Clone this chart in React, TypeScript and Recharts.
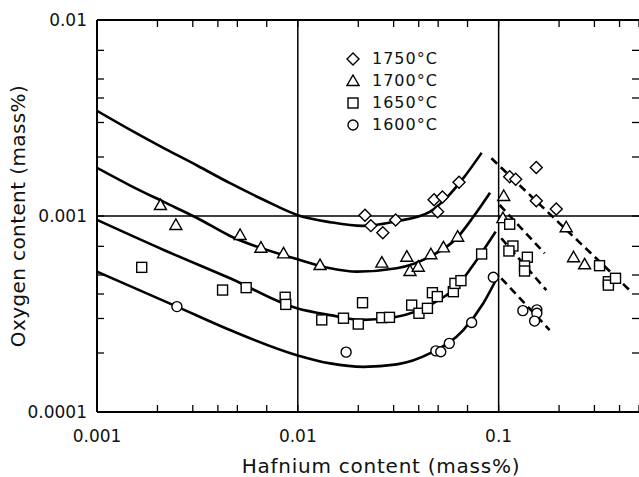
import { ComposedChart, Line, Scatter, XAxis, YAxis, ReferenceLine } from "recharts";

const FONT = '"DejaVu Sans", sans-serif';
const W = 639;
const H = 477;
const PLOT_W = 542;
const PLOT_H = 392;
const X_MARGIN = 18;
const Y_MARGIN = 10;
const TICK_LEN = 7;

// axis ticks (log scales), labelled decades only
const xTicks = [0.001, 0.002, 0.003, 0.004, 0.005, 0.007, 0.01, 0.02, 0.03, 0.04, 0.05, 0.07, 0.1, 0.2, 0.3, 0.4, 0.5];
const yTicks = [0.0001, 0.0002, 0.0003, 0.0004, 0.0005, 0.0007, 0.001, 0.002, 0.003, 0.004, 0.005, 0.007, 0.01];
const xLabelValues = [0.001, 0.01, 0.1];
const xLabelText = ["0.001", "0.01", "0.1"];
const yLabelValues = [0.0001, 0.001, 0.01];
const yLabelText = ["0.0001", "0.001", "0.01"];

// measured points
const pts1750 = [
  { x: 0.0216, y: 0.00101 }, { x: 0.0231, y: 0.000893 }, { x: 0.0265, y: 0.000822 }, { x: 0.0307, y: 0.000954 },
  { x: 0.0477, y: 0.00121 }, { x: 0.0525, y: 0.00125 }, { x: 0.0497, y: 0.00105 }, { x: 0.0635, y: 0.001485 },
  { x: 0.1135, y: 0.001587 }, { x: 0.1216, y: 0.00154 }, { x: 0.154, y: 0.00177 }, { x: 0.154, y: 0.001195 },
  { x: 0.1936, y: 0.001086 },
];
const pts1700 = [
  { x: 0.00207, y: 0.001137 }, { x: 0.00247, y: 0.0009 }, { x: 0.00516, y: 0.0008 }, { x: 0.00655, y: 0.000689 },
  { x: 0.00849, y: 0.000645 }, { x: 0.0129, y: 0.000562 }, { x: 0.0262, y: 0.000578 }, { x: 0.0349, y: 0.00062 },
  { x: 0.0362, y: 0.000524 }, { x: 0.0398, y: 0.000551 }, { x: 0.046, y: 0.000638 }, { x: 0.0531, y: 0.000692 },
  { x: 0.0625, y: 0.000784 }, { x: 0.106, y: 0.001265 }, { x: 0.105, y: 0.000975 }, { x: 0.217, y: 0.000876 },
  { x: 0.236, y: 0.000616 }, { x: 0.268, y: 0.000567 },
];
const pts1650 = [
  { x: 0.00167, y: 0.000547 }, { x: 0.00422, y: 0.000419 }, { x: 0.00553, y: 0.000431 }, { x: 0.00865, y: 0.000385 },
  { x: 0.00871, y: 0.000354 }, { x: 0.01316, y: 0.000295 }, { x: 0.01688, y: 0.000301 }, { x: 0.02, y: 0.000281 },
  { x: 0.021, y: 0.000361 }, { x: 0.0262, y: 0.000303 }, { x: 0.0286, y: 0.000304 }, { x: 0.0369, y: 0.000351 },
  { x: 0.0401, y: 0.000319 }, { x: 0.0442, y: 0.000338 }, { x: 0.0468, y: 0.000406 }, { x: 0.0495, y: 0.000388 },
  { x: 0.0595, y: 0.000411 }, { x: 0.0606, y: 0.000453 }, { x: 0.0649, y: 0.000468 }, { x: 0.0823, y: 0.00064 },
  { x: 0.1135, y: 0.000908 }, { x: 0.1178, y: 0.000703 }, { x: 0.1125, y: 0.000663 }, { x: 0.139, y: 0.000616 },
  { x: 0.1346, y: 0.000556 }, { x: 0.1346, y: 0.000524 }, { x: 0.318, y: 0.000558 }, { x: 0.352, y: 0.000462 },
  { x: 0.352, y: 0.000444 }, { x: 0.382, y: 0.000481 },
];
const pts1600 = [
  { x: 0.0025, y: 0.000345 }, { x: 0.0174, y: 0.000202 }, { x: 0.0487, y: 0.000205 }, { x: 0.0515, y: 0.000203 },
  { x: 0.0568, y: 0.000224 }, { x: 0.0734, y: 0.000286 }, { x: 0.0941, y: 0.000487 }, { x: 0.132, y: 0.000329 },
  { x: 0.155, y: 0.000332 }, { x: 0.155, y: 0.000319 }, { x: 0.151, y: 0.000291 },
];

// fitted curves (solid)
const fit1750 = [
  { x: 0.001, y: 0.00344 }, { x: 0.001465, y: 0.00275 }, { x: 0.00215, y: 0.00222 }, { x: 0.00315, y: 0.00181 },
  { x: 0.0046, y: 0.00147 }, { x: 0.00675, y: 0.00121 }, { x: 0.01, y: 0.00101 }, { x: 0.0145, y: 0.00093 },
  { x: 0.021, y: 0.00089 }, { x: 0.031, y: 0.00094 }, { x: 0.0454, y: 0.00105 }, { x: 0.0551, y: 0.00124 },
  { x: 0.0667, y: 0.00156 }, { x: 0.0823, y: 0.0021 },
];
const fit1700 = [
  { x: 0.001, y: 0.00176 }, { x: 0.001465, y: 0.00143 }, { x: 0.00215, y: 0.00118 }, { x: 0.00315, y: 0.000977 },
  { x: 0.0046, y: 0.000791 }, { x: 0.0099, y: 0.000603 }, { x: 0.0145, y: 0.000541 }, { x: 0.0197, y: 0.00052 },
  { x: 0.0311, y: 0.000541 }, { x: 0.0454, y: 0.00062 }, { x: 0.0618, y: 0.00077 }, { x: 0.0748, y: 0.00099 },
  { x: 0.0906, y: 0.001315 },
];
const fit1650 = [
  { x: 0.001, y: 0.000955 }, { x: 0.00215, y: 0.000671 }, { x: 0.0046, y: 0.000481 }, { x: 0.0099, y: 0.000338 },
  { x: 0.0145, y: 0.000312 }, { x: 0.0212, y: 0.000295 }, { x: 0.0311, y: 0.000306 }, { x: 0.0454, y: 0.000351 },
  { x: 0.0618, y: 0.000436 }, { x: 0.0778, y: 0.000597 }, { x: 0.0966, y: 0.000832 },
];
const fit1600 = [
  { x: 0.001, y: 0.00052 }, { x: 0.0025, y: 0.000345 }, { x: 0.00459, y: 0.000262 }, { x: 0.0099, y: 0.000195 },
  { x: 0.0145, y: 0.000177 }, { x: 0.0212, y: 0.00017 }, { x: 0.0311, y: 0.000175 }, { x: 0.0454, y: 0.000199 },
  { x: 0.0667, y: 0.000262 }, { x: 0.0839, y: 0.000359 }, { x: 0.0998, y: 0.0005 },
];

// dashed lines above 0.1 mass% Hf
const dash1750 = [{ x: 0.092, y: 0.00197 }, { x: 0.457, y: 0.000411 }];
const dash1700 = [{ x: 0.1012, y: 0.001138 }, { x: 0.1694, y: 0.000645 }];
const dash1650 = [{ x: 0.1031, y: 0.00077 }, { x: 0.1727, y: 0.000419 }];
const dash1600 = [{ x: 0.1031, y: 0.000481 }, { x: 0.1794, y: 0.000262 }];

const legendItems = [
  { label: "1750°C", kind: "diamond" },
  { label: "1700°C", kind: "triangle" },
  { label: "1650°C", kind: "square" },
  { label: "1600°C", kind: "circle" },
];

function Marker({ kind, cx, cy }: { kind: string; cx: number; cy: number }) {
  const common = { fill: "#fff", stroke: "#000", strokeWidth: 1.4 };
  if (kind === "diamond")
    return <path d={`M${cx},${cy - 6}L${cx + 6},${cy}L${cx},${cy + 6}L${cx - 6},${cy}Z`} {...common} />;
  if (kind === "triangle")
    return <path d={`M${cx},${cy - 6}L${cx + 6},${cy + 4.5}L${cx - 6},${cy + 4.5}Z`} {...common} />;
  if (kind === "square") return <rect x={cx - 5} y={cy - 5} width={10} height={10} {...common} />;
  return <circle cx={cx} cy={cy} r={5} {...common} />;
}

// stable shape renderers (module level, so props do not change between renders)
const diamondShape = (p: any) => <Marker kind="diamond" cx={p.cx} cy={p.cy} />;
const triangleShape = (p: any) => <Marker kind="triangle" cx={p.cx} cy={p.cy} />;
const squareShape = (p: any) => <Marker kind="square" cx={p.cx} cy={p.cy} />;
const circleShape = (p: any) => <Marker kind="circle" cx={p.cx} cy={p.cy} />;

const fmt = (values: number[], text: string[]) => (v: number) => {
  const i = values.findIndex((d) => Math.abs(d - v) / d < 1e-6);
  return i >= 0 ? text[i] : "";
};
const xFmt = fmt(xLabelValues, xLabelText);
const yFmt = fmt(yLabelValues, yLabelText);

const textStyle = { fontFamily: FONT, fontSize: 17, fill: "#111" };

// inward ticks on bottom and top, decade label below
const XTick = (props: any) => {
  const { x, y, payload } = props;
  const base = y - X_MARGIN;
  const top = base - PLOT_H;
  const label = xFmt(payload.value);
  return (
    <g>
      <line x1={x} x2={x} y1={base} y2={base - TICK_LEN} stroke="#000" strokeWidth={1.3} />
      <line x1={x} x2={x} y1={top} y2={top + TICK_LEN} stroke="#000" strokeWidth={1.3} />
      {label ? (
        <text x={x} y={y} dy="0.71em" textAnchor="middle" style={textStyle}>
          {label}
        </text>
      ) : null}
    </g>
  );
};

// inward ticks on left and right, decade label to the left
const YTick = (props: any) => {
  const { x, y, payload } = props;
  const base = x + Y_MARGIN;
  const right = base + PLOT_W;
  const label = yFmt(payload.value);
  return (
    <g>
      <line x1={base} x2={base + TICK_LEN} y1={y} y2={y} stroke="#000" strokeWidth={1.3} />
      <line x1={right} x2={right - TICK_LEN} y1={y} y2={y} stroke="#000" strokeWidth={1.3} />
      {label ? (
        <text x={x} y={y} dy="0.355em" textAnchor="end" style={textStyle}>
          {label}
        </text>
      ) : null}
    </g>
  );
};

const xTickEl = <XTick />;
const yTickEl = <YTick />;
const chartMargin = { top: 20, right: 0, bottom: 0, left: 0 };
const thick = { stroke: "#000", strokeWidth: 2 };
const xDomain = [0.001, 0.5];
const yDomain = [0.0001, 0.01];
const xTitle = { value: "Hafnium content (mass%)", position: "center" as const, dx: 13, dy: 21, style: { fontFamily: FONT, fontSize: 20, fill: "#111", letterSpacing: 0.75 } };
const yTitle = { value: "Oxygen content (mass%)", angle: -90, position: "center" as const, dx: -31, style: { fontFamily: FONT, fontSize: 20, fill: "#111", letterSpacing: 0.4 } };

function LegendBox() {
  return (
    <div style={{ position: "absolute", left: 346, top: 48, fontFamily: FONT, fontSize: 16, color: "#111", lineHeight: "22px" }}>
      {legendItems.map((it) => (
        <div key={it.label} style={{ display: "flex", alignItems: "center", height: 22 }}>
          <svg width={14} height={14} style={{ marginRight: 12 }}>
            <Marker kind={it.kind} cx={7} cy={7} />
          </svg>
          <span style={{ letterSpacing: 1 }}>{it.label}</span>
        </div>
      ))}
    </div>
  );
}

export default function App() {
  return (
    <div style={{ position: "absolute", left: 0, top: 0, width: W, height: H, background: "#fff", overflow: "hidden" }}>
      <ComposedChart width={W} height={H} margin={chartMargin}>
        <XAxis xAxisId="b" dataKey="x" type="number" scale="log" domain={xDomain} allowDataOverflow ticks={xTicks} interval={0}
          tick={xTickEl} tickLine={false} tickSize={0} tickMargin={X_MARGIN} height={65} axisLine={thick} label={xTitle} />
        <YAxis yAxisId="l" dataKey="y" type="number" scale="log" domain={yDomain} allowDataOverflow ticks={yTicks} interval={0}
          tick={yTickEl} tickLine={false} tickSize={0} tickMargin={Y_MARGIN} width={97} axisLine={thick} label={yTitle} />

        {/* top frame line and grid lines */}
        <ReferenceLine xAxisId="b" yAxisId="l" y={0.01} stroke="#000" strokeWidth={2} ifOverflow="visible" />
        <ReferenceLine xAxisId="b" yAxisId="l" x={0.01} stroke="#000" strokeWidth={1.5} />
        <ReferenceLine xAxisId="b" yAxisId="l" x={0.1} stroke="#000" strokeWidth={1.5} />
        <ReferenceLine xAxisId="b" yAxisId="l" y={0.001} stroke="#000" strokeWidth={1.5} />

        <Line xAxisId="b" yAxisId="l" data={fit1750} dataKey="y" type="monotone" stroke="#000" strokeWidth={2.6} dot={false} isAnimationActive={false} />
        <Line xAxisId="b" yAxisId="l" data={fit1700} dataKey="y" type="monotone" stroke="#000" strokeWidth={2.6} dot={false} isAnimationActive={false} />
        <Line xAxisId="b" yAxisId="l" data={fit1650} dataKey="y" type="monotone" stroke="#000" strokeWidth={2.6} dot={false} isAnimationActive={false} />
        <Line xAxisId="b" yAxisId="l" data={fit1600} dataKey="y" type="monotone" stroke="#000" strokeWidth={2.6} dot={false} isAnimationActive={false} />

        <Line xAxisId="b" yAxisId="l" data={dash1750} dataKey="y" type="linear" stroke="#000" strokeWidth={2.6} strokeDasharray="8 5" dot={false} isAnimationActive={false} />
        <Line xAxisId="b" yAxisId="l" data={dash1700} dataKey="y" type="linear" stroke="#000" strokeWidth={2.6} strokeDasharray="8 5" dot={false} isAnimationActive={false} />
        <Line xAxisId="b" yAxisId="l" data={dash1650} dataKey="y" type="linear" stroke="#000" strokeWidth={2.6} strokeDasharray="8 5" dot={false} isAnimationActive={false} />
        <Line xAxisId="b" yAxisId="l" data={dash1600} dataKey="y" type="linear" stroke="#000" strokeWidth={2.6} strokeDasharray="8 5" dot={false} isAnimationActive={false} />

        <Scatter xAxisId="b" yAxisId="l" data={pts1750} dataKey="y" shape={diamondShape} isAnimationActive={false} />
        <Scatter xAxisId="b" yAxisId="l" data={pts1700} dataKey="y" shape={triangleShape} isAnimationActive={false} />
        <Scatter xAxisId="b" yAxisId="l" data={pts1650} dataKey="y" shape={squareShape} isAnimationActive={false} />
        <Scatter xAxisId="b" yAxisId="l" data={pts1600} dataKey="y" shape={circleShape} isAnimationActive={false} />
      </ComposedChart>
      <LegendBox />
    </div>
  );
}
